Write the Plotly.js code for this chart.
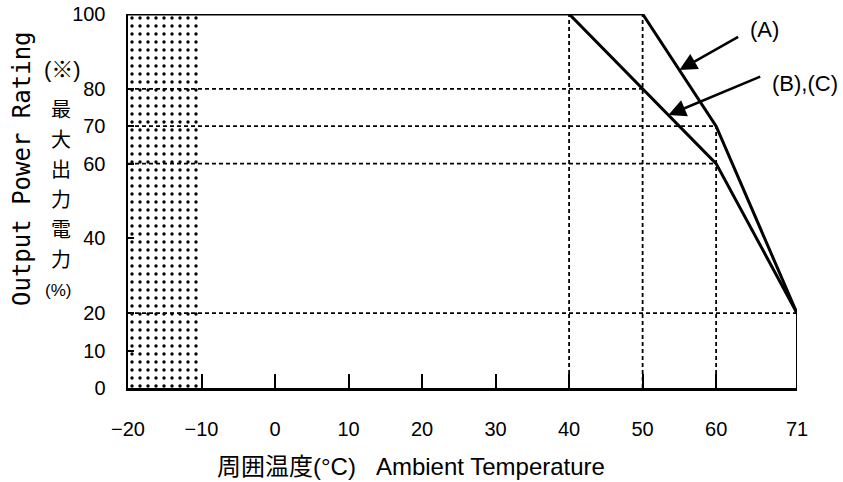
<!DOCTYPE html>
<html>
<head>
<meta charset="utf-8">
<script src="https://cdn.plot.ly/plotly-3.0.1.min.js"></script>
<style>html,body{margin:0;padding:0;background:#fff;}#chart{width:843px;height:482px;}</style>
</head>
<body>
<div id="chart"></div>
<script>
// ---- data ----
const tempA = [-20, 50, 60, 71];
const powerA = [100, 100, 70, 20];
const tempBC = [40, 60, 71];
const powerBC = [100, 60, 20];
const edgeTemp = [71, 71];
const edgePower = [20, 0];
const hatchTemp = [-20, -10, -10, -20, -20];
const hatchPower = [0, 0, 100, 100, 0];
const refLevels = [80, 70, 60, 20];
const refLevelEnds = [50, 60, 60, 71];
const refTemps = [40, 50, 60];
const refTempTops = [100, 100, 70];
const xTickVals = [-20, -10, 0, 10, 20, 30, 40, 50, 60, 71];
const yTickVals = [0, 10, 20, 40, 60, 70, 80, 100];
const cjkChars = ['最', '大', '出', '力', '電', '力'];

// build dashed reference lines from the arrays
const gridX = [], gridY = [];
refLevels.forEach((lv, i) => { gridX.push(-20, refLevelEnds[i], null); gridY.push(lv, lv, null); });
refTemps.forEach((t, i) => { gridX.push(t, t, null); gridY.push(0, refTempTops[i], null); });

const latin = 'Liberation Sans, Arial, sans-serif';
const cjk = 'Liberation Sans, Noto Sans CJK JP, sans-serif';

const traces = [
  { x: hatchTemp, y: hatchPower, mode: 'lines', fill: 'toself', fillcolor: 'white',
    line: { width: 0, color: 'rgba(0,0,0,0)' },
    fillpattern: { shape: '.', fgcolor: 'black', bgcolor: 'white', size: 8, solidity: 0.14 },
    hoverinfo: 'skip' },
  { x: gridX, y: gridY, mode: 'lines', line: { color: 'black', width: 1.8, dash: '4px,3px' },
    connectgaps: false, cliponaxis: false, hoverinfo: 'skip' },
  { x: tempA, y: powerA, mode: 'lines', line: { color: 'black', width: 3 }, cliponaxis: false, name: '(A)' },
  { x: tempBC, y: powerBC, mode: 'lines', line: { color: 'black', width: 3 }, cliponaxis: false, name: '(B),(C)' },
  { x: edgeTemp, y: edgePower, mode: 'lines', line: { color: 'black', width: 2 }, cliponaxis: false, hoverinfo: 'skip' }
];

const px = p => (p - 128) / 669;
const py = p => (388 - p) / 374;
const txt = (x, y, text, font, extra) => Object.assign({
  xref: 'paper', yref: 'paper', x: px(x), y: py(y), text: text, showarrow: false,
  xanchor: 'center', yanchor: 'middle', font: font
}, extra || {});

const cjkAnnots = cjkChars.map((c, i) => txt(61, 108 + 30 * i, c,
  { family: 'Noto Sans CJK JP, sans-serif', size: 20, color: 'black' }, { borderpad: 0 }));

const layout = {
  width: 843, height: 482,
  margin: { l: 128, r: 46, t: 14, b: 94 },
  paper_bgcolor: 'white', plot_bgcolor: 'white',
  showlegend: false,
  xaxis: {
    range: [-20, 71], showgrid: false, zeroline: false,
    showline: true, linewidth: 2.5, linecolor: 'black',
    ticks: 'inside', ticklen: 14, tickwidth: 2, tickcolor: 'black',
    tickmode: 'array', tickvals: xTickVals,
    tickfont: { family: latin, size: 20, color: 'black' },
    ticklabelstandoff: 21
  },
  yaxis: {
    range: [0, 100], showgrid: false, zeroline: false,
    showline: true, linewidth: 2.5, linecolor: 'black',
    ticks: 'inside', ticklen: 6, tickwidth: 2, tickcolor: 'black',
    tickmode: 'array', tickvals: yTickVals,
    tickfont: { family: latin, size: 20, color: 'black' },
    ticklabelstandoff: 16
  },
  annotations: [
    { xref: 'x', yref: 'y', axref: 'x', ayref: 'y', x: 55, y: 85, ax: 63.2, ay: 94.1,
      text: '', showarrow: true, arrowhead: 2, arrowsize: 1.4, arrowwidth: 2.5, arrowcolor: 'black' },
    { xref: 'x', yref: 'y', axref: 'x', ayref: 'y', x: 53.5, y: 73, ax: 66.2, ay: 83.4,
      text: '', showarrow: true, arrowhead: 2, arrowsize: 1.4, arrowwidth: 2.5, arrowcolor: 'black' },
    txt(764, 30, '(A)', { family: latin, size: 22, color: 'black' }),
    txt(805, 84, '(B),(C)', { family: latin, size: 22, color: 'black' }),
    txt(62, 69, '(※)', { family: cjk, size: 22, color: 'black' }),
    ...cjkAnnots,
    txt(58, 290, '(%)', { family: latin, size: 17, color: 'black' }),
    txt(22, 169, 'Output Power Rating', { family: 'DejaVu Sans Mono, monospace', size: 24, color: 'black' }, { textangle: -90 }),
    txt(411, 466, '周囲温度(°C)\u00a0\u00a0 Ambient Temperature', { family: cjk, size: 24, color: 'black' })
  ]
};

Plotly.newPlot('chart', traces, layout, { displayModeBar: false, staticPlot: true });
</script>
</body>
</html>
